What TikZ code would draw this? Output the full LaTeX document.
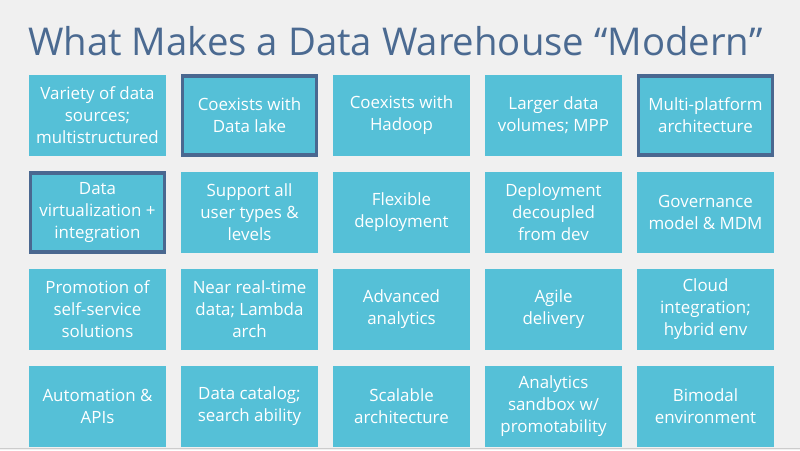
\documentclass[tikz,border=0pt]{standalone}
\usepackage{fontspec}
\setmainfont{Open Sans}
\usetikzlibrary{calc}
\definecolor{slidebg}{HTML}{F0F0F0}
\definecolor{tileteal}{HTML}{55C0D7}
\definecolor{titleslate}{HTML}{4B6A91}
\definecolor{edgeslate}{HTML}{4A6890}

\tikzset{
  tile/.style={rectangle, fill=tileteal, text=white, inner sep=0pt,
    minimum width=137pt, minimum height=81pt, align=center,
    font=\fontsize{16.9}{22}\selectfont},
  marked/.style={tile, draw=edgeslate, line width=3.6pt,
    minimum width=134pt, minimum height=79pt}
}

\begin{document}
\begin{tikzpicture}[x=1pt,y=-1pt]
    \fill[slidebg] (0,0) rectangle (800,450);
    \useasboundingbox (0,0) rectangle (800,450);
    \draw[black!20,line width=0.8pt] (0,448.5) -- (800,448.5);

    \node[anchor=base west,text=titleslate,inner sep=0pt,
      font=\fontsize{38.3}{44}\selectfont] (title) at (28,55)
      {What Makes a Data Warehouse “Modern”};

    \coordinate (Corner) at (97.5,115.5); % centre of the first tile
    % tiles go row by row, five to a row
    \foreach \txt/\look [count=\i from 0] in {
      {Variety of data\\sources;\\multistructured}/tile,
      {Coexists with\\Data lake}/marked,
      {Coexists with\\Hadoop}/tile,
      {Larger data\\volumes; MPP}/tile,
      {Multi-platform\\architecture}/marked,
      {Data\\virtualization +\\integration}/marked,
      {Support all\\user types \&\\levels}/tile,
      {Flexible\\deployment}/tile,
      {Deployment\\decoupled\\from dev}/tile,
      {Governance\\model \& MDM}/tile,
      {Promotion of\\self-service\\solutions}/tile,
      {Near real-time\\data; Lambda\\arch}/tile,
      {Advanced\\analytics}/tile,
      {Agile\\delivery}/tile,
      {Cloud\\integration;\\hybrid env}/tile,
      {Automation \&\\APIs}/tile,
      {Data catalog;\\search ability}/tile,
      {Scalable\\architecture}/tile,
      {Analytics\\sandbox w/\\promotability}/tile,
      {Bimodal\\environment}/tile}{
      \pgfmathtruncatemacro{\col}{mod(\i,5)}%
      \pgfmathtruncatemacro{\row}{div(\i,5)}%
      \node[\look] (tile\i) at ($(Corner)+(152*\col,97*\row)$) {\txt};
    }
\end{tikzpicture}
\end{document}
